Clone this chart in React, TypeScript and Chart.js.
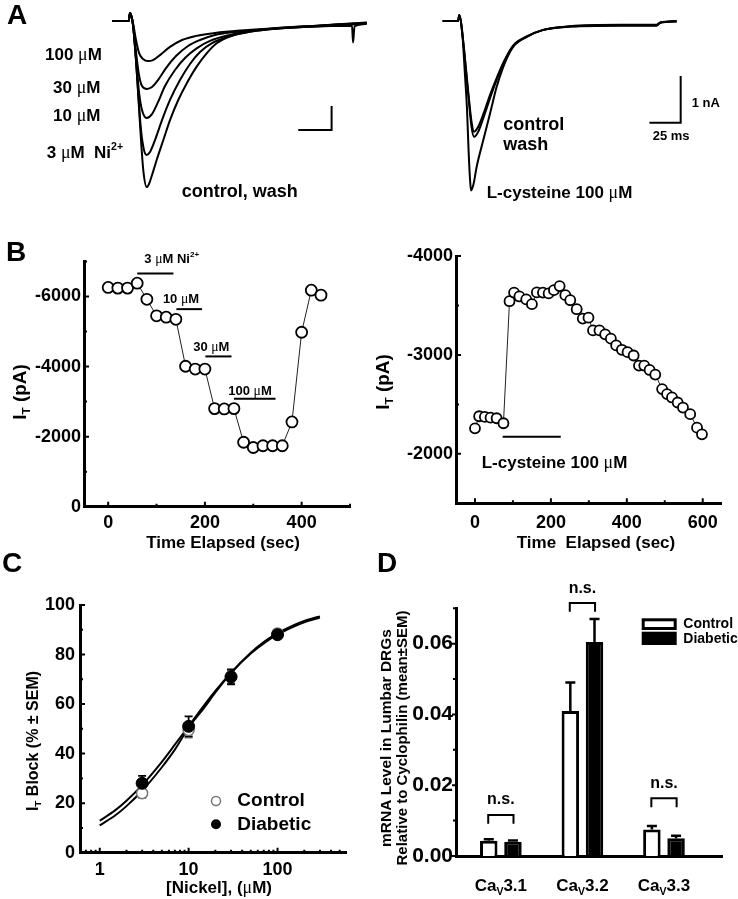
import React, { useEffect, useRef } from 'react';
import { Chart, registerables } from 'chart.js';

Chart.register(...registerables);

const SANS = '"Liberation Sans", Arial, Helvetica, sans-serif';
const SERIF = '"Liberation Serif", "Times New Roman", serif';
const BLACK = '#000000';

type Pt = [number, number];
type Seg = { t: string; sub?: boolean; sup?: boolean; serif?: boolean };
type Rect = { x: number; y: number; w: number; h: number };

// ---------------- Panel A: current traces (time in ms, current in nA) ----------------
const A_LEFT_CONTROL: Pt[] = [[-13.5, 0], [-1, 0], [0, 0.33], [2.25, -0.17], [4.5, -1.63], [6.4, -3.29], [8.25, -4.96], [10.1, -6.29], [12.5, -6.92], [14.25, -6.79], [16.3, -6.46], [20, -5.79], [25, -4.96], [30, -4.13], [36.2, -3.29], [42.5, -2.6], [50, -1.9], [57.5, -1.35], [65, -0.93], [75, -0.65], [90, -0.45], [115, -0.3], [152.5, -0.21], [166.5, -0.2], [167.3, -0.9], [168.4, -0.22], [177.5, -0.12]];
const A_LEFT_3UM: Pt[] = [[-13.5, 0], [-1, 0], [0, 0.33], [2.25, -0.17], [4.5, -1.63], [6.4, -3.2], [8.25, -4.54], [10.5, -5.38], [12.5, -5.58], [15, -5.46], [18.75, -4.96], [24, -4.13], [30, -3.29], [37.5, -2.46], [45, -1.79], [52.5, -1.29], [61.5, -0.92], [75, -0.63], [90, -0.44], [115, -0.29], [152.5, -0.19], [177.5, -0.1]];
const A_LEFT_10UM: Pt[] = [[-13.5, 0], [-1, 0], [0, 0.33], [2.25, -0.17], [4.5, -1.54], [6.75, -2.96], [9, -3.71], [12.5, -4.04], [16.5, -3.88], [21, -3.38], [26.25, -2.71], [33.75, -2.04], [41.25, -1.54], [50.25, -1.13], [60, -0.83], [75, -0.58], [90, -0.42], [115, -0.27], [152.5, -0.17], [177.5, -0.08]];
const A_LEFT_30UM: Pt[] = [[-13.5, 0], [-1, 0], [0, 0.33], [2.25, -0.13], [4.5, -1.29], [6.75, -2.25], [9, -2.71], [12.75, -2.83], [16.5, -2.75], [21, -2.46], [27, -1.96], [34.5, -1.46], [43.5, -1.04], [52.5, -0.79], [63.75, -0.58], [78.75, -0.46], [97.5, -0.36], [115, -0.28], [152.5, -0.16], [177.5, -0.07]];
const A_LEFT_100UM: Pt[] = [[-13.5, 0], [-1, 0], [0, 0.33], [2.25, -0.08], [4.5, -0.79], [6.75, -1.33], [9.75, -1.58], [13.5, -1.67], [17.25, -1.63], [22.5, -1.42], [30, -1.08], [39, -0.79], [48.75, -0.63], [63.75, -0.5], [82.5, -0.4], [105, -0.32], [130, -0.25], [152.5, -0.15], [177.5, -0.06]];

const A_RIGHT_CYSTEINE: Pt[] = [[-13.3, 0], [-1, 0], [0, 0.13], [2.2, -0.19], [4.6, -1.18], [6.2, -1.91], [7.4, -2.76], [8.6, -3.4], [9.4, -3.63], [11.4, -3.49], [13.9, -3.12], [19.2, -2.55], [24.6, -1.98], [29.9, -1.41], [35.2, -0.98], [43.2, -0.55], [53.9, -0.34], [67.2, -0.19], [88.6, -0.12], [128.6, -0.1], [157.9, -0.1], [160.6, -0.04], [173.9, -0.01]];
const A_RIGHT_CONTROL: Pt[] = [[-13.3, 0], [-1, 0], [0, 0.13], [3, -0.41], [5.4, -1.05], [7.8, -1.69], [9.8, -2.16], [11.8, -2.37], [15, -2.27], [19.8, -1.95], [24.6, -1.58], [30.2, -1.2], [35.8, -0.86], [43.2, -0.52], [53.9, -0.33], [67.2, -0.19], [88.6, -0.12], [128.6, -0.09], [157.9, -0.09], [160.6, -0.04], [173.9, -0.01]];
const A_RIGHT_WASH: Pt[] = [[-13.3, 0], [-1, 0], [0, 0.13], [3, -0.41], [5.4, -1.07], [7.8, -1.76], [9.8, -2.27], [11.8, -2.48], [15, -2.38], [19.8, -2.03], [24.6, -1.65], [30.2, -1.24], [35.8, -0.88], [43.2, -0.54], [53.9, -0.34], [67.2, -0.19], [88.6, -0.11], [128.6, -0.08], [157.9, -0.08], [160.6, -0.03], [173.9, 0]];

// scale bars: 25 ms x 1 nA
const A_LEFT_SCALEBAR: Pt[] = [[126.2, -4.54], [151.2, -4.54], [151.2, -3.54]];
const A_RIGHT_SCALEBAR: Pt[] = [[152.1, -2.18], [177.1, -2.18], [177.1, -1.18]];

// ---------------- Panel B ----------------
const B_L_TIME = [0, 20, 40, 60, 80, 100, 120, 140, 160, 180, 200, 220, 240, 260, 280, 300, 320, 340, 360, 380, 400, 420, 440];
const B_L_CURRENT = [-6260, -6240, -6240, -6380, -5920, -5450, -5410, -5350, -4010, -3930, -3930, -2800, -2790, -2800, -1840, -1690, -1740, -1740, -1740, -2420, -4980, -6180, -6040];
const B_L_XTICKS = [0, 200, 400];
const B_L_XMINOR = [100, 300, 500];
const B_L_YTICKS = [0, -2000, -4000, -6000];
const B_L_YMINOR = [-1000, -3000, -5000, -7000];
const NI_START = [60, 141, 201, 260];
const NI_END = [135, 194, 255, 346];
const NI_BAR_LEVEL = [-6660, -5640, -4290, -3080];

const B_R_TIME = [0, 11, 26, 41, 57, 75, 91, 103, 117, 135, 150, 163, 179, 194, 208, 223, 238, 251, 268, 284, 299, 311, 328, 343, 358, 372, 387, 402, 418, 432, 446, 460, 475, 493, 506, 519, 534, 548, 567, 585, 598];
const B_R_CURRENT = [-2258, -2380, -2373, -2366, -2360, -2309, -3543, -3630, -3591, -3561, -3513, -3632, -3630, -3622, -3655, -3696, -3604, -3553, -3462, -3367, -3377, -3248, -3248, -3208, -3164, -3096, -3052, -3028, -2994, -2892, -2892, -2848, -2801, -2655, -2604, -2570, -2519, -2468, -2401, -2265, -2197];
const B_R_XTICKS = [0, 200, 400, 600];
const B_R_XMINOR = [100, 300, 500];
const B_R_YTICKS = [-4000, -3000, -2000];
const B_R_YMINOR = [-3500, -2500, -1500];
const CYS_START = 73;
const CYS_END = 226;
const CYS_BAR_LEVEL = -2173;

// ---------------- Panel C ----------------
const C_CONC = [3, 10, 30, 100];
const C_CONTROL = [24, 49.5, 71, 88.5];
const C_CONTROL_SEM = [2, 3, 2.5, 1.5];
const C_DIABETIC = [28, 51, 71, 88];
const C_DIABETIC_SEM = [3, 4, 3, 1.5];
const C_FIT_X = [1, 1.5, 2, 3, 5, 7, 10, 15, 20, 30, 50, 70, 100, 150, 200, 300];
const C_FIT_DIABETIC = [12.9, 17.2, 21.0, 27.3, 36.7, 43.6, 51.1, 59.6, 65.3, 72.7, 80.4, 84.5, 88.1, 91.2, 93.0, 94.9];
const C_FIT_CONTROL = [11.0, 15.1, 18.8, 25.0, 34.5, 41.6, 50.5, 58.6, 64.7, 72.5, 80.7, 85.0, 88.6, 91.8, 93.6, 95.4];
const C_XTICKS = [1, 10, 100];
const C_XMINOR = [0.7, 0.8, 0.9, 2, 3, 4, 5, 6, 7, 8, 9, 20, 30, 40, 50, 60, 70, 80, 90, 200, 300, 400, 500];
const C_YTICKS = [0, 20, 40, 60, 80, 100];
const C_YMINOR = [10, 30, 50, 70, 90];

// ---------------- Panel D ----------------
const D_CATEGORIES = ['3.1', '3.2', '3.3'];
const D_CONTROL = [0.0043, 0.041, 0.0075];
const D_CONTROL_SEM = [0.0004, 0.008, 0.001];
const D_DIABETIC = [0.004, 0.0605, 0.005];
const D_DIABETIC_SEM = [0.0004, 0.0065, 0.0007];
const D_BRACKET = [0.0116, 0.0715, 0.0163];
const D_YTICKS = [0, 0.02, 0.04, 0.06];
const D_YMINOR = [0.01, 0.03, 0.05, 0.07];

// ---------------- helpers ----------------
const MU: Seg = { t: 'μ', serif: true };
const S = (...parts: (string | Seg)[]): Seg[] => parts.map((p) => (typeof p === 'string' ? { t: p } : p));
const toXY = (arr: Pt[]) => arr.map(([x, y]) => ({ x, y }));

function drawRich(ctx: CanvasRenderingContext2D, segs: Seg[], x: number, y: number, size: number, align: 'left' | 'center' | 'right' = 'left', rot = 0) {
  ctx.save();
  ctx.translate(x, y);
  if (rot) ctx.rotate(rot);
  ctx.textBaseline = 'middle';
  ctx.textAlign = 'left';
  ctx.fillStyle = BLACK;
  const fontFor = (s: Seg) => {
    const sz = s.sub || s.sup ? size * 0.62 : size;
    return s.serif ? `normal ${sz * 1.05}px ${SERIF}` : `bold ${sz}px ${SANS}`;
  };
  let total = 0;
  const widths = segs.map((s) => {
    ctx.font = fontFor(s);
    const w = ctx.measureText(s.t).width;
    total += w;
    return w;
  });
  let cx = align === 'left' ? 0 : align === 'center' ? -total / 2 : -total;
  segs.forEach((s, i) => {
    ctx.font = fontFor(s);
    const dy = s.sub ? size * 0.32 : s.sup ? -size * 0.38 : 0;
    ctx.fillText(s.t, cx, dy);
    cx += widths[i];
  });
  ctx.restore();
}

function drawTicks(chart: any, axis: 'x' | 'y', values: number[], len: number, inward = true, lw = 2) {
  const sc = chart.scales[axis];
  const ca = chart.chartArea;
  const ctx = chart.ctx;
  ctx.save();
  ctx.strokeStyle = BLACK;
  ctx.lineWidth = lw;
  ctx.beginPath();
  values.forEach((v) => {
    const p = sc.getPixelForValue(v);
    if (axis === 'x') {
      ctx.moveTo(p, ca.bottom);
      ctx.lineTo(p, inward ? ca.bottom - len : ca.bottom + len);
    } else {
      ctx.moveTo(ca.left, p);
      ctx.lineTo(inward ? ca.left + len : ca.left - len, p);
    }
  });
  ctx.stroke();
  ctx.restore();
}

const tickFont = (size: number) => ({ family: SANS, weight: 'bold' as const, size });

function axis(extra: any) {
  return {
    offset: false,
    grid: { display: false, drawTicks: false },
    border: { display: true, color: BLACK, width: 3 },
    ...extra,
  };
}

const baseOptions = {
  responsive: false,
  maintainAspectRatio: false,
  animation: false as const,
  devicePixelRatio: 1,
  events: [] as any[],
  plugins: { legend: { display: false }, tooltip: { enabled: false } },
};

function Panel({ rect, make }: { rect: Rect; make: () => any }) {
  const ref = useRef<HTMLCanvasElement>(null);
  useEffect(() => {
    const chart = new Chart(ref.current as HTMLCanvasElement, make());
    return () => chart.destroy();
  }, []);
  return (
    <canvas
      ref={ref}
      width={rect.w}
      height={rect.h}
      style={{ position: 'absolute', left: rect.x, top: rect.y, width: rect.w, height: rect.h }}
    />
  );
}

// ---------------- Panel A configs ----------------
const A_L_RECT: Rect = { x: 0, y: 0, w: 390, h: 215 };
const A_R_RECT: Rect = { x: 390, y: 0, w: 348, h: 215 };

function traceDatasets(traces: Pt[][], bar: Pt[]) {
  return [
    ...traces.map((t) => ({
      data: toXY(t),
      borderColor: BLACK,
      borderWidth: 2,
      pointRadius: 0,
      cubicInterpolationMode: 'monotone',
      fill: false,
    })),
    { data: toXY(bar), borderColor: BLACK, borderWidth: 2, pointRadius: 0, tension: 0 },
  ];
}

function makeALeft() {
  const R = A_L_RECT;
  return {
    type: 'line',
    data: { datasets: traceDatasets([A_LEFT_CONTROL, A_LEFT_3UM, A_LEFT_10UM, A_LEFT_30UM, A_LEFT_100UM], A_LEFT_SCALEBAR) },
    options: {
      ...baseOptions,
      layout: { padding: { left: 100, right: 10, top: 0, bottom: 15 } },
      scales: {
        x: { type: 'linear', display: false, min: -22.5, max: 187.5 },
        y: { type: 'linear', display: false, min: -7.458, max: 0.875 },
      },
    },
    plugins: [
      {
        id: 'aLeftText',
        afterDraw(chart: any) {
          const ctx = chart.ctx;
          const T = (segs: Seg[], X: number, Y: number, size: number, align: any = 'left') => drawRich(ctx, segs, X - R.x, Y - R.y, size, align);
          T(S('A'), 7, 16, 28);
          T(S('100 ', MU, 'M'), 45, 55, 17);
          T(S('30 ', MU, 'M'), 53, 88.3, 17);
          T(S('10 ', MU, 'M'), 53, 116.7, 17);
          T([...S('3 ', MU, 'M  Ni'), { t: '2+', sup: true }], 46.7, 153.3, 17);
          T(S('control, wash'), 181.7, 191.7, 18);
        },
      },
    ],
  };
}

function makeARight() {
  const R = A_R_RECT;
  return {
    type: 'line',
    data: { datasets: traceDatasets([A_RIGHT_CYSTEINE, A_RIGHT_CONTROL, A_RIGHT_WASH], A_RIGHT_SCALEBAR) },
    options: {
      ...baseOptions,
      layout: { padding: { left: 40, right: 38, top: 0, bottom: 15 } },
      scales: {
        x: { type: 'linear', display: false, min: -23.44, max: 192.56 },
        y: { type: 'linear', display: false, min: -3.833, max: 0.4497 },
      },
    },
    plugins: [
      {
        id: 'aRightText',
        afterDraw(chart: any) {
          const ctx = chart.ctx;
          const T = (segs: Seg[], X: number, Y: number, size: number, align: any = 'left') => drawRich(ctx, segs, X - R.x, Y - R.y, size, align);
          T(S('control'), 503.3, 125, 18);
          T(S('wash'), 503.3, 145, 18);
          T(S('L-cysteine 100 ', MU, 'M'), 486.7, 193.3, 17);
          T(S('1 nA'), 691.7, 103.3, 13);
          T(S('25 ms'), 652.7, 136.7, 13);
        },
      },
    ],
  };
}

// ---------------- Panel B configs ----------------
const B_L_RECT: Rect = { x: 0, y: 230, w: 370, h: 325 };
const B_R_RECT: Rect = { x: 370, y: 230, w: 368, h: 325 };

function numTicks(vals: number[]) {
  return (ax: any) => {
    ax.ticks = vals.map((value) => ({ value }));
  };
}

function makeBLeft() {
  const R = B_L_RECT;
  return {
    type: 'line',
    data: {
      datasets: [
        {
          data: B_L_TIME.map((x, i) => ({ x, y: B_L_CURRENT[i] })),
          borderColor: '#222',
          borderWidth: 1,
          pointRadius: 5.5,
          pointBorderWidth: 1.8,
          pointBackgroundColor: '#ffffff',
          pointBorderColor: BLACK,
          tension: 0,
        },
        ...NI_START.map((s, i) => ({
          data: [{ x: s, y: NI_BAR_LEVEL[i] }, { x: NI_END[i], y: NI_BAR_LEVEL[i] }],
          borderColor: BLACK,
          borderWidth: 2,
          pointRadius: 0,
          clip: false,
        })),
      ],
    },
    options: {
      ...baseOptions,
      layout: { padding: { left: 0, right: 20, top: 31.5, bottom: 0 } },
      scales: {
        x: axis({
          type: 'linear', min: -50, max: 500,
          ticks: { font: tickFont(18), color: BLACK, padding: 6, maxRotation: 0, autoSkip: false, callback: (v: any) => String(v) },
          afterBuildTicks: numTicks(B_L_XTICKS),
          afterFit: (s: any) => { s.height = 48.3; },
        }),
        y: axis({
          type: 'linear', min: -7000, max: 0, reverse: true,
          ticks: { font: tickFont(18), color: BLACK, padding: 3, autoSkip: false, callback: (v: any) => String(v) },
          afterBuildTicks: numTicks(B_L_YTICKS),
          afterFit: (s: any) => { s.width = 84; },
        }),
      },
    },
    plugins: [
      {
        id: 'bLeftText',
        afterDraw(chart: any) {
          const ctx = chart.ctx;
          drawTicks(chart, 'x', B_L_XTICKS, 5);
          drawTicks(chart, 'x', B_L_XMINOR, 3);
          drawTicks(chart, 'y', B_L_YTICKS, 5);
          drawTicks(chart, 'y', B_L_YMINOR, 3);
          const T = (segs: Seg[], X: number, Y: number, size: number, align: any = 'left', rot = 0) => drawRich(ctx, segs, X - R.x, Y - R.y, size, align, rot);
          T(S('B'), 6, 253, 28);
          T([{ t: 'I' }, { t: 'T', sub: true }, { t: ' (pA)' }], 21, 392, 19, 'center', -Math.PI / 2);
          T(S('Time Elapsed (sec)'), 223, 543, 17, 'center');
          T([...S('3 ', MU, 'M Ni'), { t: '2+', sup: true }], 171.7, 259.3, 13, 'center');
          T(S('10 ', MU, 'M'), 181, 299.3, 13, 'center');
          T(S('30 ', MU, 'M'), 211.3, 347.3, 13, 'center');
          T(S('100 ', MU, 'M'), 250, 391.7, 13, 'center');
        },
      },
    ],
  };
}

function makeBRight() {
  const R = B_R_RECT;
  return {
    type: 'line',
    data: {
      datasets: [
        {
          data: B_R_TIME.map((x, i) => ({ x, y: B_R_CURRENT[i] })),
          borderColor: '#222',
          borderWidth: 1,
          pointRadius: 5,
          pointBorderWidth: 1.8,
          pointBackgroundColor: '#ffffff',
          pointBorderColor: BLACK,
          tension: 0,
        },
        {
          data: [{ x: CYS_START, y: CYS_BAR_LEVEL }, { x: CYS_END, y: CYS_BAR_LEVEL }],
          borderColor: BLACK,
          borderWidth: 2,
          pointRadius: 0,
        },
      ],
    },
    options: {
      ...baseOptions,
      layout: { padding: { left: 0, right: 16.3, top: 26, bottom: 0 } },
      scales: {
        x: axis({
          type: 'linear', min: -50, max: 650,
          ticks: { font: tickFont(18), color: BLACK, padding: 9, maxRotation: 0, autoSkip: false, callback: (v: any) => String(v) },
          afterBuildTicks: numTicks(B_R_XTICKS),
          afterFit: (s: any) => { s.height = 51.7; },
        }),
        y: axis({
          type: 'linear', min: -4000, max: -1500, reverse: true,
          ticks: { font: tickFont(18), color: BLACK, padding: 3, autoSkip: false, callback: (v: any) => String(v) },
          afterBuildTicks: numTicks(B_R_YTICKS),
          afterFit: (s: any) => { s.width = 86; },
        }),
      },
    },
    plugins: [
      {
        id: 'bRightText',
        afterDraw(chart: any) {
          const ctx = chart.ctx;
          drawTicks(chart, 'x', B_R_XTICKS, 5);
          drawTicks(chart, 'x', B_R_XMINOR, 3);
          drawTicks(chart, 'y', B_R_YTICKS, 5);
          drawTicks(chart, 'y', B_R_YMINOR, 3);
          const T = (segs: Seg[], X: number, Y: number, size: number, align: any = 'left', rot = 0) => drawRich(ctx, segs, X - R.x, Y - R.y, size, align, rot);
          T([{ t: 'I' }, { t: 'T', sub: true }, { t: ' (pA)' }], 384, 382, 19, 'center', -Math.PI / 2);
          T(S('Time  Elapsed (sec)'), 596, 543, 17, 'center');
          T(S('L-cysteine 100 ', MU, 'M'), 481.7, 463.3, 17);
        },
      },
    ],
  };
}

// ---------------- Panel C config ----------------
const C_RECT: Rect = { x: 0, y: 545, w: 370, h: 354 };

function makeC() {
  const R = C_RECT;
  return {
    type: 'line',
    data: {
      datasets: [
        {
          data: C_CONC.map((x, i) => ({ x, y: C_DIABETIC[i] })),
          showLine: false,
          pointRadius: 6,
          pointBackgroundColor: BLACK,
          pointBorderColor: BLACK,
          pointBorderWidth: 1,
        },
        {
          data: C_CONC.map((x, i) => ({ x, y: C_CONTROL[i] })),
          showLine: false,
          pointRadius: 5.5,
          pointBackgroundColor: '#ffffff',
          pointBorderColor: '#777777',
          pointBorderWidth: 1.5,
        },
        {
          data: C_FIT_X.map((x, i) => ({ x, y: C_FIT_DIABETIC[i] })),
          borderColor: BLACK, borderWidth: 2, pointRadius: 0, cubicInterpolationMode: 'monotone',
        },
        {
          data: C_FIT_X.map((x, i) => ({ x, y: C_FIT_CONTROL[i] })),
          borderColor: BLACK, borderWidth: 2, pointRadius: 0, cubicInterpolationMode: 'monotone',
        },
      ],
    },
    options: {
      ...baseOptions,
      layout: { padding: { left: 0, right: 23.3, top: 60, bottom: 0 } },
      scales: {
        x: axis({
          type: 'logarithmic', min: 0.6, max: 600,
          ticks: { font: tickFont(18), color: BLACK, padding: 7, maxRotation: 0, autoSkip: false, callback: (v: any) => String(v) },
          afterBuildTicks: numTicks(C_XTICKS),
          afterFit: (s: any) => { s.height = 46.3; },
        }),
        y: axis({
          type: 'linear', min: 0, max: 100,
          ticks: { font: tickFont(18), color: BLACK, padding: 5, autoSkip: false, callback: (v: any) => String(v) },
          afterBuildTicks: numTicks(C_YTICKS),
          afterFit: (s: any) => { s.width = 80; },
        }),
      },
    },
    plugins: [
      {
        id: 'cErr',
        beforeDatasetsDraw(chart: any) {
          const ctx = chart.ctx;
          const xs = chart.scales.x;
          const ys = chart.scales.y;
          ctx.save();
          const bars = (vals: number[], sems: number[], color: string) => {
            ctx.strokeStyle = color;
            ctx.lineWidth = 1.8;
            vals.forEach((v, i) => {
              const px = xs.getPixelForValue(C_CONC[i]);
              const top = ys.getPixelForValue(v + sems[i]);
              const bot = ys.getPixelForValue(v - sems[i]);
              ctx.beginPath();
              ctx.moveTo(px, top); ctx.lineTo(px, bot);
              ctx.moveTo(px - 4, top); ctx.lineTo(px + 4, top);
              ctx.moveTo(px - 4, bot); ctx.lineTo(px + 4, bot);
              ctx.stroke();
            });
          };
          bars(C_CONTROL, C_CONTROL_SEM, '#777777');
          bars(C_DIABETIC, C_DIABETIC_SEM, BLACK);
          ctx.restore();
        },
        afterDraw(chart: any) {
          const ctx = chart.ctx;
          drawTicks(chart, 'x', C_XTICKS, 5);
          drawTicks(chart, 'x', C_XMINOR, 3);
          drawTicks(chart, 'y', C_YTICKS, 5);
          drawTicks(chart, 'y', C_YMINOR, 3);
          const T = (segs: Seg[], X: number, Y: number, size: number, align: any = 'left', rot = 0) => drawRich(ctx, segs, X - R.x, Y - R.y, size, align, rot);
          T(S('C'), 2, 564.5, 28);
          T([{ t: 'I' }, { t: 'T', sub: true }, { t: ' Block (% ± SEM)' }], 33.3, 741, 16, 'center', -Math.PI / 2);
          T(S('[Nickel], (', MU, 'M)'), 219, 888, 17, 'center');
          // legend
          ctx.save();
          ctx.lineWidth = 1.5;
          ctx.strokeStyle = '#777777';
          ctx.fillStyle = '#ffffff';
          ctx.beginPath();
          ctx.arc(216 - R.x, 801 - R.y, 4.5, 0, Math.PI * 2);
          ctx.fill();
          ctx.stroke();
          ctx.fillStyle = BLACK;
          ctx.beginPath();
          ctx.arc(216 - R.x, 824.3 - R.y, 5, 0, Math.PI * 2);
          ctx.fill();
          ctx.restore();
          T(S('Control'), 237.3, 801, 19);
          T(S('Diabetic'), 237.3, 824.3, 19);
        },
      },
    ],
  };
}

// ---------------- Panel D config ----------------
const D_RECT: Rect = { x: 370, y: 545, w: 368, h: 354 };

function makeD() {
  const R = D_RECT;
  const sems = [D_CONTROL_SEM, D_DIABETIC_SEM];
  return {
    type: 'bar',
    data: {
      datasets: [
        {
          label: 'Control',
          data: D_CONTROL.map((y, i) => ({ x: i, y })),
          backgroundColor: '#ffffff',
          borderColor: BLACK,
          borderWidth: 3,
          categoryPercentage: 0.593,
          barPercentage: 0.723,
        },
        {
          label: 'Diabetic',
          data: D_DIABETIC.map((y, i) => ({ x: i, y })),
          backgroundColor: BLACK,
          borderColor: BLACK,
          borderWidth: 3,
          categoryPercentage: 0.593,
          barPercentage: 0.723,
        },
      ],
    },
    options: {
      ...baseOptions,
      layout: { padding: { left: 0, right: 15.3, top: 63.3, bottom: 0 } },
      scales: {
        x: axis({
          type: 'linear', min: -0.55, max: 2.72,
          ticks: { display: false },
          afterBuildTicks: numTicks([0, 1, 2]),
          afterFit: (s: any) => { s.height = 43; },
        }),
        y: axis({
          type: 'linear', min: 0, max: 0.07,
          ticks: { font: tickFont(21), color: BLACK, padding: 3, autoSkip: false, callback: (v: any) => Number(v).toFixed(2) },
          afterBuildTicks: numTicks(D_YTICKS),
          afterFit: (s: any) => { s.width = 86; },
        }),
      },
    },
    plugins: [
      {
        id: 'dExtras',
        afterDatasetsDraw(chart: any) {
          const ctx = chart.ctx;
          const ys = chart.scales.y;
          ctx.save();
          ctx.strokeStyle = BLACK;
          ctx.lineWidth = 2.5;
          [D_CONTROL, D_DIABETIC].forEach((vals, di) => {
            const meta = chart.getDatasetMeta(di);
            vals.forEach((v, j) => {
              const el = meta.data[j];
              const top = ys.getPixelForValue(v + sems[di][j]);
              ctx.beginPath();
              ctx.moveTo(el.x, el.y);
              ctx.lineTo(el.x, top);
              ctx.moveTo(el.x - 5, top);
              ctx.lineTo(el.x + 5, top);
              ctx.stroke();
            });
          });
          ctx.restore();
        },
        afterDraw(chart: any) {
          const ctx = chart.ctx;
          const xs = chart.scales.x;
          const ys = chart.scales.y;
          drawTicks(chart, 'y', D_YTICKS, 4, false);
          drawTicks(chart, 'y', D_YMINOR, 3, false);
          const T = (segs: Seg[], X: number, Y: number, size: number, align: any = 'left', rot = 0) => drawRich(ctx, segs, X - R.x, Y - R.y, size, align, rot);
          // brackets + n.s.
          ctx.save();
          ctx.strokeStyle = BLACK;
          ctx.lineWidth = 2;
          D_BRACKET.forEach((b, j) => {
            const xl = xs.getPixelForValue(j - 0.155);
            const xr = xs.getPixelForValue(j + 0.155);
            const yt = ys.getPixelForValue(b);
            const yb = ys.getPixelForValue(b - 0.0025);
            ctx.beginPath();
            ctx.moveTo(xl, yb); ctx.lineTo(xl, yt); ctx.lineTo(xr, yt); ctx.lineTo(xr, yb);
            ctx.stroke();
            drawRich(ctx, S('n.s.'), xs.getPixelForValue(j), ys.getPixelForValue(b + 0.0042), 16, 'center');
          });
          ctx.restore();
          // category labels
          const ca = chart.chartArea;
          D_CATEGORIES.forEach((c, j) => {
            drawRich(ctx, [{ t: 'Ca' }, { t: 'V', sub: true }, { t: c }], xs.getPixelForValue(j), ca.bottom + 30.7, 17, 'center');
          });
          T(S('D'), 377, 564.5, 28);
          T(S('mRNA Level in Lumbar DRGs'), 386.7, 738, 15.5, 'center', -Math.PI / 2);
          T(S('Relative to Cyclophilin (mean±SEM)'), 403.3, 738, 15, 'center', -Math.PI / 2);
          // legend
          ctx.save();
          ctx.strokeStyle = BLACK;
          ctx.lineWidth = 3;
          ctx.strokeRect(641.7 - R.x + 1.5, 618.3 - R.y + 1.5, 35 - 3, 11.7 - 3);
          ctx.fillStyle = BLACK;
          ctx.fillRect(641.7 - R.x, 631.7 - R.y, 35, 13.3);
          ctx.restore();
          T(S('Control'), 683.3, 624, 14);
          T(S('Diabetic'), 683.3, 639, 14);
        },
      },
    ],
  };
}

export default function App() {
  return (
    <div style={{ position: 'absolute', left: 0, top: 0, width: 738, height: 899, background: '#ffffff', overflow: 'hidden' }}>
      <Panel rect={A_L_RECT} make={makeALeft} />
      <Panel rect={A_R_RECT} make={makeARight} />
      <Panel rect={B_L_RECT} make={makeBLeft} />
      <Panel rect={B_R_RECT} make={makeBRight} />
      <Panel rect={C_RECT} make={makeC} />
      <Panel rect={D_RECT} make={makeD} />
    </div>
  );
}
